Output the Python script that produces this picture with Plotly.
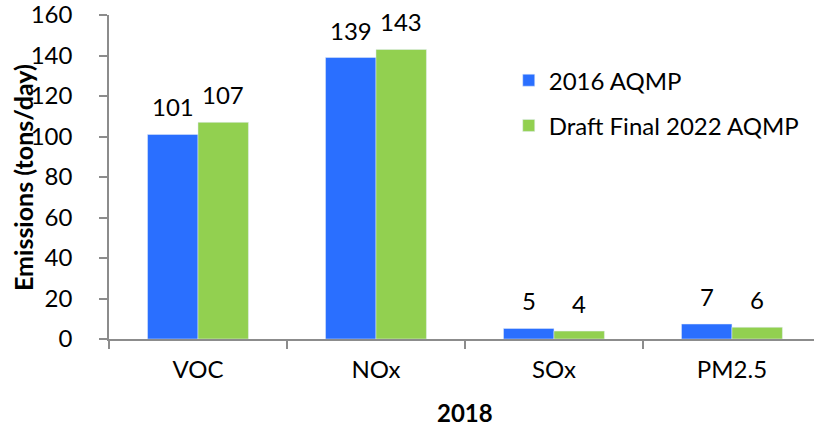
import plotly.graph_objects as go

# 2018 emissions, tons/day
pollutants = ["VOC", "NOx", "SOx", "PM2.5"]
aqmp_2016 = [101, 139, 5.2, 7.4]
aqmp_2022 = [107, 143, 3.9, 5.8]
labels_2016 = ["101", "139", "5", "7"]
labels_2022 = ["107", "143", "4", "6"]

BLUE = "#2A6FFF"
GREEN = "#92D050"
AXIS = "#8C8C8C"
FONT = "Lato, 'Open Sans', sans-serif"

fig = go.Figure()
fig.add_trace(go.Bar(x=pollutants, y=aqmp_2016, name="2016 AQMP",
                     marker_color=BLUE, legendgroup="a"))
fig.add_trace(go.Bar(x=pollutants, y=aqmp_2022, name="Draft Final 2022 AQMP",
                     marker_color=GREEN, legendgroup="b"))

# value labels above each bar
for vals, labs, shift in [(aqmp_2016, labels_2016, -25), (aqmp_2022, labels_2022, 25)]:
    for cat, v, t in zip(pollutants, vals, labs):
        fig.add_annotation(x=cat, y=v, text=t, showarrow=False, xref="x", yref="y",
                           xshift=shift, yanchor="bottom", yshift=11,
                           font=dict(size=24, color="black"))

fig.add_annotation(text="<b>Emissions (tons/day)</b>", textangle=-90,
                   xref="paper", yref="paper", x=-0.122, y=0.5,
                   xanchor="center", yanchor="middle", showarrow=False,
                   font=dict(size=25, color="black"))
fig.add_annotation(text="<b>2018</b>", xref="paper", yref="paper",
                   x=0.505, y=-0.228, xanchor="center", yanchor="middle",
                   showarrow=False, font=dict(size=24, color="black"))

# plot area runs past the right edge, like the source image (last category cut)
fig.update_layout(
    width=814, height=430,
    margin=dict(l=109, r=0, t=15, b=91),
    paper_bgcolor="white", plot_bgcolor="white",
    font=dict(family=FONT, size=24, color="black"),
    barmode="group", bargap=0.433, bargroupgap=0,
    legend=dict(x=0.567, y=0.867, xanchor="left", yanchor="top",
                font=dict(size=24), tracegroupgap=11, bgcolor="rgba(0,0,0,0)"),
    xaxis=dict(range=[-0.5, 3.461], showline=True, linecolor=AXIS, linewidth=1.5,
               ticks="outside", tickson="boundaries", ticklen=8, tickcolor=AXIS,
               tickwidth=1.5, ticklabelstandoff=8, showgrid=False),
    yaxis=dict(range=[0, 160], dtick=20, showline=True, linecolor=AXIS, linewidth=1.5,
               ticks="outside", ticklen=8, tickcolor=AXIS, tickwidth=1.5,
               ticklabelstandoff=22, ticklabeloverflow="allow",
               showgrid=False, zeroline=False, automargin=False),
)

# drop the default page margin so the figure fills the window exactly
fig.write_html("out.html", config={"displayModeBar": False},
               post_script="document.body.style.margin='0';")
